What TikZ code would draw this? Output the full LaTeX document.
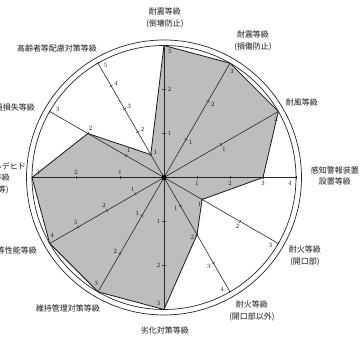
\documentclass[tikz,border=0pt]{standalone}
\usepackage{fontspec}
\newfontfamily\jp{Noto Sans CJK JP}
\begin{document}
\begin{tikzpicture}[x=1pt,y=1pt,
  axisline/.style={draw=black!85, line width=0.6pt},
  ringline/.style={draw=black!85, line width=0.7pt},
  area/.style={fill=black!26, draw=black!90, line width=0.8pt, line join=round},
  lab/.style={font=\jp\fontsize{8}{11.5}\selectfont, align=center, text=black!90, inner sep=0pt},
  num/.style={font=\fontsize{6.5}{6.5}\selectfont, inner sep=0pt, text=black!90}]
\useasboundingbox (0,0) rectangle (360,342);
\clip (0,0) rectangle (360,342);
\fill[white] (0,0) rectangle (360,342);
\def\R{132}
\begin{scope}[shift={(164,164.5)}]
  % shaded value polygon
  \draw[area] (90:132) -- (60:132) -- (30:132) -- (0:99) -- (-30:44) -- (-60:66)
    -- (-90:132) -- (-120:132) -- (-150:132) -- (180:132) -- (150:88) -- (120:26.4) -- cycle;
  % rings
  \draw[ringline] (0,0) circle (132);
  \draw[ringline] (0,0) circle (137.5);
  % axes with ticks and numbers
  \foreach \a/\n in {90/3, 60/3, 30/2, 0/4, -30/3, -60/4, -90/3, -120/3, -150/4, 180/3, 150/3, 120/5}{
    \draw[axisline] (0,0) -- (\a:\R);
    \begin{scope}[rotate=\a]
      \foreach \k in {1,...,\n}{
        \pgfmathsetmacro{\rr}{\k/\n*\R}
        \pgfmathsetmacro{\rl}{\k==\n ? \rr-6 : \rr}
        \draw[axisline, line width=0.5pt] (\rr,-1.6) -- (\rr,1.6);
        \node[num] (n\a-\k) at (\rl,-5.5) {\k};
      }
    \end{scope}
  }
  \fill[black] (-2.2,-2.2) rectangle (2.2,2.2);
\end{scope}
% category labels
\node[lab] (l1) at (165,324) {耐震等級\\(倒壊防止)};
\node[lab] (l2) at (253,301) {耐震等級\\(損傷防止)};
\node[lab] (l3) at (302,240) {耐風等級};
\node[lab] (l4) at (335,166) {感知警報装置\\設置等級};
\node[lab] (l5) at (305,86) {耐火等級\\(開口部)};
\node[lab] (l6) at (252,31) {耐火等級\\(開口部以外)};
\node[lab] (l7) at (165,12) {劣化対策等級};
\node[lab] (l8) at (68,34) {維持管理対策等級};
\node[lab, anchor=east] (l9) at (37,92) {断熱等性能等級};
\node[lab] (l10) at (-6,164) {ホルムアルデヒド\\放散等級\\(内装等)};
\node[lab, anchor=east] (l11) at (35,235) {透過損失等級};
\node[lab] (l12) at (57,294) {高齢者等配慮対策等級};
\end{tikzpicture}
\end{document}
